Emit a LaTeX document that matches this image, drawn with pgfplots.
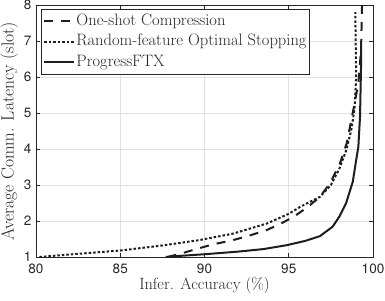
\documentclass[border=0pt]{standalone}
\usepackage{fontspec}
\usepackage{pgfplots}
\pgfplotsset{compat=1.18}
\newfontfamily\tickfont{TeX Gyre Heros}
\definecolor{axgray}{RGB}{38,38,38}
\definecolor{gridgray}{RGB}{225,225,225}
\definecolor{linecol}{RGB}{30,30,30}
\begin{document}
\begin{tikzpicture}
\useasboundingbox (-36pt,-43pt) rectangle (349pt,257pt);
\begin{axis}[
  at={(0pt,0pt)}, anchor=south west,
  scale only axis, width=337pt, height=252pt,
  xmin=80, xmax=100, ymin=1, ymax=8,
  xtick={80,85,...,100}, ytick={1,...,8},
  grid=major,
  major grid style={gridgray, line width=0.8pt},
  axis line style={axgray, line width=0.8pt},
  tick style={axgray, line width=0.8pt},
  tick align=inside,
  major tick length=4pt,
  /pgf/number format/assume math mode=true,
  tick label style={font=\tickfont\fontsize{13.5}{15}\selectfont, text=axgray},
  xticklabel style={yshift=-3pt},
  yticklabel style={xshift=-1pt},
  xlabel={Infer. Accuracy (\%)},
  ylabel={Average Comm. Latency (slot)},
  xlabel style={font=\fontsize{16.3}{18}\selectfont, text=axgray, yshift=3pt},
  ylabel style={font=\fontsize{17.6}{19}\selectfont, text=axgray, yshift=-1pt},
  legend style={at={(0.015,0.983)}, anchor=north west, draw=axgray, line width=0.8pt,
    fill=white, font=\fontsize{16.5}{18}\selectfont, text=axgray,
    inner xsep=2pt, inner ysep=1.5pt, row sep=0pt,
    nodes={inner xsep=1pt, inner ysep=2.25pt, text height=12pt, text depth=4pt}},
  legend cell align=left,
  legend image code/.code={\draw[#1] (0pt,0pt) -- (30pt,0pt);},
]
\addplot[linecol, line width=2pt, dash pattern=on 9pt off 8pt] coordinates {
(87.8,1.0)(88.5,1.08)(89.5,1.22)(90.5,1.35)(91.7,1.47)(92.7,1.6)(93.7,1.75)(94.5,1.92)(95.3,2.12)(96.1,2.38)(96.85,2.67)(97.45,3.05)(98.04,3.6)(98.44,4.16)(98.83,5.08)(99.13,5.82)(99.29,6.75)(99.35,8)
};
\addlegendentry{One-shot Compression}
\addplot[linecol, line width=2pt, dash pattern=on 2.5pt off 2pt] coordinates {
(80.2,1.0)(82,1.07)(85,1.18)(87.5,1.32)(89.7,1.47)(91.7,1.65)(93.7,1.93)(95.0,2.2)(95.7,2.4)(96.85,2.67)(97.5,3.0)(98.0,3.45)(98.4,3.95)(98.7,4.5)(98.9,5.1)(99.0,6.0)(98.95,7.8)
};
\addlegendentry{Random-feature Optimal Stopping}
\addplot[linecol, line width=2pt] coordinates {
(87.7,1.0)(88.5,1.03)(90.1,1.08)(92,1.15)(93.5,1.22)(94.9,1.33)(96.0,1.45)(96.85,1.58)(97.6,1.84)(98.0,2.12)(98.4,2.49)(98.8,3.09)(99.0,3.69)(99.13,4.06)(99.23,4.9)(99.29,6.29)(99.3,6.8)
};
\addlegendentry{ProgressFTX}
\end{axis}
\end{tikzpicture}
\end{document}
